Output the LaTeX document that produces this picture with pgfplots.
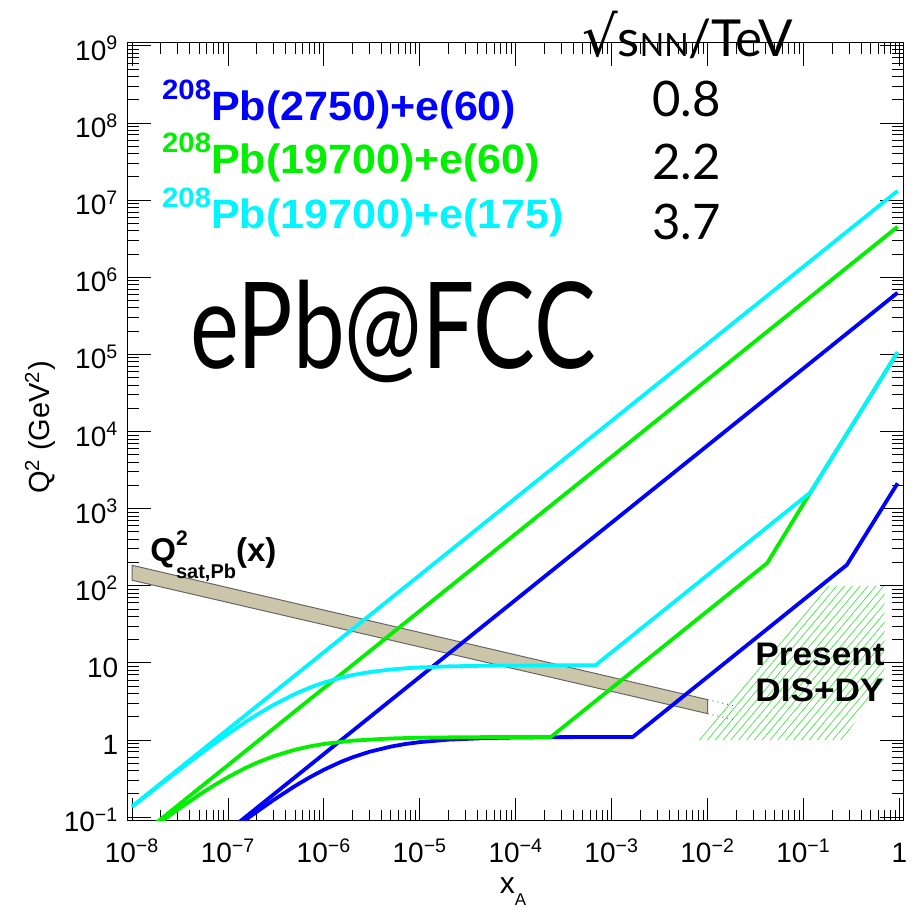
\documentclass[border=0pt]{standalone}
\usepackage{pgfplots}
\pgfplotsset{compat=1.18}
\usepackage{fontspec}
\setmainfont{Liberation Sans}
\newfontfamily\lato{Lato}
\newfontfamily\dejavu{DejaVu Sans}
\usetikzlibrary{patterns.meta}
\definecolor{rblue}{RGB}{0,0,255}
\definecolor{rgreen}{RGB}{0,240,0}
\definecolor{rcyan}{RGB}{0,245,255}
\definecolor{bandfill}{RGB}{203,198,170}
\definecolor{hatchgreen}{RGB}{70,225,70}
\newcommand{\tpow}[1]{10\textsuperscript{#1}}
\begin{document}
\begin{tikzpicture}
\useasboundingbox (-63.85pt,-45.15pt) rectangle (394.15pt,410.35pt);
\begin{axis}[
  at={(0pt,0pt)}, anchor=south west,
  scale only axis, width=387.9pt, height=389pt,
  xmode=log, ymode=log,
  xmin=9e-9, xmax=1.1, ymin=0.09, ymax=1.1e9,
  xtick={1e-8,1e-7,1e-6,1e-5,1e-4,1e-3,1e-2,1e-1,1},
  xticklabels={\tpow{−8},\tpow{−7},\tpow{−6},\tpow{−5},\tpow{−4},\tpow{−3},\tpow{−2},\tpow{−1},1},
  ytick={0.1,1,10,100,1e3,1e4,1e5,1e6,1e7,1e8,1e9},
  yticklabels={\tpow{−1},1,10,\tpow{2},\tpow{3},\tpow{4},\tpow{5},\tpow{6},\tpow{7},\tpow{8},\tpow{9}},
  tick align=inside,
  major tick length=11.5pt, minor tick length=5.5pt,
  every tick/.style={black, line width=0.5pt},
  axis line style={line width=0.6pt},
  ticklabel style={font=\fontsize{14}{14}\selectfont},
  xticklabel style={anchor=base, inner sep=0pt, yshift=-21pt},
  yticklabel style={anchor=base east, inner sep=0pt, xshift=-4.5pt, yshift=-7.25pt},
  clip=true,
]
% Present DIS+DY hatched region
\addplot[draw=none, pattern={Lines[angle=50,distance=3pt,line width=0.35pt]}, pattern color=hatchgreen]
  coordinates {(7.66e-3,1) (0.1576,100) (0.698,100) (0.698,5.95) (0.255,1)} --cycle;
% Q2 sat band
\addplot[fill=bandfill, draw=black!60, line width=0.5pt]
  coordinates {(1e-8,184.5) (1e-2,3.34) (1e-2,2.2) (1e-8,118)} --cycle;
\addplot[dotted, black!60, line width=0.5pt] coordinates {(1e-2,3.34) (0.019,2.77)};
\addplot[dotted, black!60, line width=0.5pt] coordinates {(1e-2,2.2) (0.019,1.83)};
% blue: Pb(2750)+e(60)
\addplot[rblue, line width=1.9pt, line join=round] coordinates {(1e-7,0.066) (0.955,6.303e5)};
\addplot[rblue, line width=1.9pt, line join=round] coordinates {
 (1.2e-7,0.0739) (1.5e-7,0.0908) (2e-7,0.1178) (3e-7,0.1677) (5e-7,0.2537) (7e-7,0.3251)
 (1e-6,0.4121) (1.5e-6,0.5204) (2e-6,0.5991) (3e-6,0.7059) (5e-6,0.8233) (7e-6,0.8865)
 (1e-5,0.9406) (2e-5,1.0128) (5e-5,1.0617) (1e-4,1.0790) (3e-4,1.0909) (1e-3,1.0952)
 (1.66e-3,1.0959) (0.282,186) (0.955,2134)};
% green: Pb(19700)+e(60)
\addplot[rgreen, line width=1.9pt, line join=round] coordinates {(1e-8,0.04728) (0.955,4.515e6)};
\addplot[rgreen, line width=1.9pt, line join=round] coordinates {
 (1e-8,0.0453) (1.5e-8,0.0666) (2e-8,0.0871) (2.5e-8,0.1067) (3e-8,0.1256) (5e-8,0.1945)
 (7e-8,0.2543) (1e-7,0.3304) (1.5e-7,0.4307) (2e-7,0.5078) (3e-7,0.6186) (5e-7,0.7493)
 (7e-7,0.8239) (1e-6,0.8904) (2e-6,0.9830) (5e-6,1.0483) (1e-5,1.0721) (3e-5,1.0886)
 (1e-4,1.0945) (2.32e-4,1.0965) (0.0418,197.6) (0.118,1628) (0.955,1.066e5)};
% cyan: Pb(19700)+e(175)
\addplot[rcyan, line width=1.9pt, line join=round] coordinates {(1e-8,0.1379) (0.955,1.317e7)};
\addplot[rcyan, line width=1.9pt, line join=round] coordinates {
 (1e-8,0.1359) (2e-8,0.2679) (3e-8,0.3961) (5e-8,0.6420) (7e-8,0.8748) (1e-7,1.2014)
 (1.5e-7,1.6931) (2e-7,2.1287) (3e-7,2.8661) (5e-7,3.9649) (7e-7,4.7444) (1e-6,5.5649)
 (1.5e-6,6.4298) (2e-6,6.9716) (3e-6,7.6130) (5e-6,8.2180) (7e-6,8.5077) (1e-5,8.7387)
 (2e-5,9.0247) (5e-5,9.2054) (1e-4,9.2673) (3e-4,9.3090) (6.77e-4,9.32) (0.118,1628)
 (0.955,1.066e5)};
\end{axis}
% axis labels
\node[anchor=base, inner sep=0pt, font=\fontsize{15}{15}\selectfont] at (192.65pt,-36.3pt)
  {x\raisebox{-6pt}{\fontsize{8.5}{8.5}\selectfont A}};
\node[rotate=90, anchor=base, inner sep=0pt, font=\fontsize{14.5}{14.5}\selectfont] at (-39pt,196.6pt)
  {Q\textsuperscript{2} (GeV\textsuperscript{2})};
% legend-like labels
\node[anchor=base west, inner sep=0pt, text=rblue, font=\bfseries\fontsize{20.5}{20.5}\selectfont, xscale=1.05]
  at (17pt,349.85pt) {\raisebox{10.5pt}{\fontsize{14}{14}\selectfont 208}Pb(2750)+e(60)};
\node[anchor=base west, inner sep=0pt, text=rgreen, font=\bfseries\fontsize{20.5}{20.5}\selectfont, xscale=1.05]
  at (17pt,323.7pt) {\raisebox{10.5pt}{\fontsize{14}{14}\selectfont 208}Pb(19700)+e(60)};
\node[anchor=base west, inner sep=0pt, text=rcyan, font=\bfseries\fontsize{20.5}{20.5}\selectfont, xscale=1.05]
  at (17pt,296.2pt) {\raisebox{10.5pt}{\fontsize{14}{14}\selectfont 208}Pb(19700)+e(175)};
\node[anchor=base west, inner sep=0pt] at (227pt,382pt)
  {{\dejavu\fontsize{28}{28}\selectfont √}{\lato\fontsize{25.5}{25.5}\selectfont s{\fontsize{16}{16}\selectfont NN}/TeV}};
\node[anchor=base west, inner sep=0pt, font=\lato\fontsize{24.5}{24.5}\selectfont] at (262pt,352pt) {0.8};
\node[anchor=base west, inner sep=0pt, font=\lato\fontsize{24.5}{24.5}\selectfont] at (262pt,320.35pt) {2.2};
\node[anchor=base west, inner sep=0pt, font=\lato\fontsize{24.5}{24.5}\selectfont] at (262pt,290.7pt) {3.7};
\node[anchor=base west, inner sep=0pt, font=\lato\fontsize{60}{60}\selectfont, xscale=0.77] at (31.15pt,226.2pt) {ePb@FCC};
\node[anchor=base west, inner sep=0pt, font=\bfseries\fontsize{16.5}{16.5}\selectfont] at (11.15pt,129.5pt)
  {Q\rlap{\raisebox{8.3pt}{\fontsize{10.5}{10.5}\selectfont 2}}\raisebox{-8.2pt}{\fontsize{10}{10}\selectfont sat,Pb}(x)};
\node[anchor=base west, inner sep=0pt, font=\bfseries\fontsize{16.3}{16.3}\selectfont, xscale=1.08] at (313.65pt,77.85pt) {Present};
\node[anchor=base west, inner sep=0pt, font=\bfseries\fontsize{16.3}{16.3}\selectfont, xscale=1.08] at (313.65pt,59.5pt) {DIS+DY};
\end{tikzpicture}
\end{document}
